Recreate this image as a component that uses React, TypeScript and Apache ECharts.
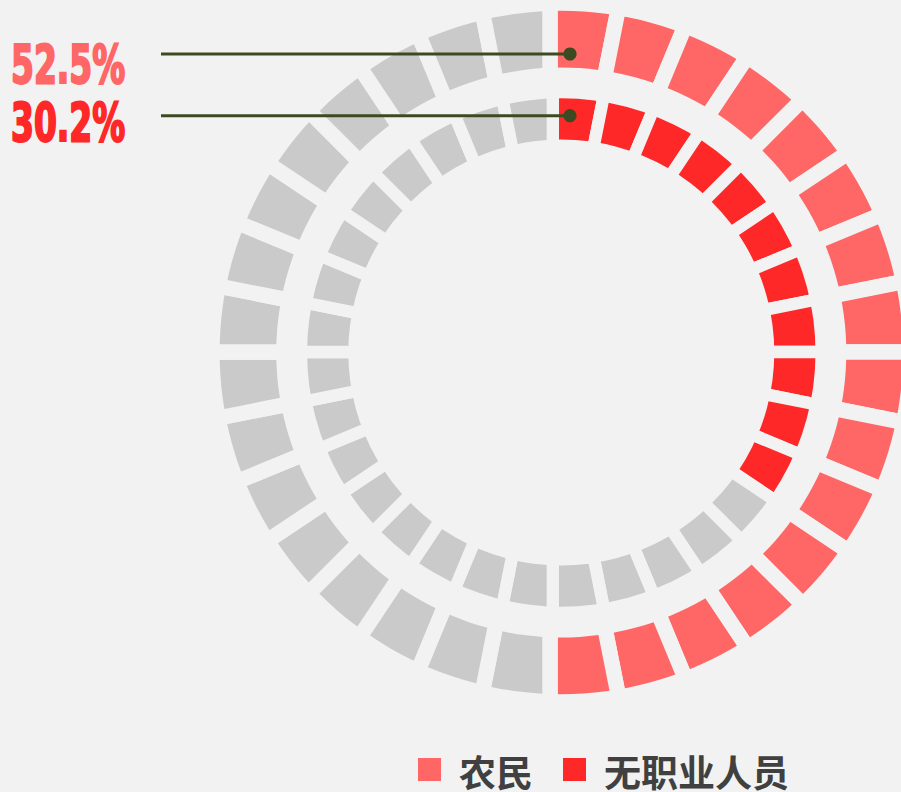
import React, { useEffect, useRef } from 'react';
import * as echarts from 'echarts';

// ---- data ----
const categories = ['农民', '无职业人员'];
const percentValues = [52.5, 30.2];
const segmentCount = 32;
const activeSegments = [16, 11];
const ringColors = ['#FF6666', '#FF2828'];
const idleColor = '#CACACA';
const bgColor = '#F2F2F2';
const lineColor = '#3C4A22';
const legendTextColor = '#404040';

function segmentData(active: number, color: string) {
  return Array.from({ length: segmentCount }, (_, i) => ({
    name: i < active ? 'on' : 'off',
    value: 1,
    itemStyle: { color: i < active ? color : idleColor },
  }));
}

const pieBase: any = {
  type: 'pie',
  silent: true,
  startAngle: 90,
  clockwise: true,
  avoidLabelOverlap: false,
  label: { show: false },
  labelLine: { show: false },
  emphasis: { disabled: true },
  animation: false,
};

function mask(radius: [number, number]) {
  return {
    ...pieBase,
    center: [561.3, 352.5],
    radius,
    z: 5,
    data: [{ value: 1, itemStyle: { color: bgColor } }],
  };
}

export default function App() {
  const ref = useRef<HTMLDivElement>(null);
  useEffect(() => {
    document.body.style.margin = '0';
    const chart = echarts.init(ref.current!, undefined, { renderer: 'svg' });
    const lineYs = [54, 115.7];
    const textYs = [65, 123];
    const graphics: any[] = [];
    percentValues.forEach((v, i) => {
      graphics.push({
        type: 'line',
        z: 100,
        silent: true,
        shape: { x1: 161, y1: lineYs[i], x2: 570, y2: lineYs[i] },
        style: { stroke: lineColor, lineWidth: 3 },
      });
      graphics.push({
        type: 'circle',
        z: 101,
        silent: true,
        shape: { cx: 570, cy: lineYs[i], r: 6.6 },
        style: { fill: lineColor },
      });
      graphics.push({
        type: 'text',
        z: 100,
        silent: true,
        x: 11,
        y: textYs[i],
        scaleX: 0.69,
        style: {
          text: v.toFixed(1) + '%',
          fill: ringColors[i],
          stroke: ringColors[i],
          lineWidth: 2.2,
          fontSize: 53,
          fontWeight: 'bold',
          fontFamily: '"DejaVu Sans Condensed", "DejaVu Sans", sans-serif',
          verticalAlign: 'middle',
          textAlign: 'left',
        },
      });
    });
    const legendX = [418, 563];
    categories.forEach((c, i) => {
      graphics.push({
        type: 'rect',
        z: 100,
        silent: true,
        shape: { x: legendX[i], y: 758, width: 23, height: 23 },
        style: { fill: ringColors[i] },
      });
      graphics.push({
        type: 'text',
        z: 100,
        silent: true,
        x: legendX[i] + 41,
        y: 771,
        style: {
          text: c,
          fill: legendTextColor,
          fontSize: 37,
          lineHeight: 36,
          fontWeight: 'bold',
          fontFamily: '"Noto Sans CJK SC", sans-serif',
          verticalAlign: 'middle',
          textAlign: 'left',
        },
      });
    });

    chart.setOption({
      animation: false,
      backgroundColor: bgColor,
      graphic: { elements: graphics },
      series: [
        {
          ...pieBase,
          name: categories[0],
          center: [550, 352],
          radius: [262, 364],
          z: 2,
          itemStyle: { borderColor: bgColor, borderWidth: 15.4 },
          data: segmentData(activeSegments[0], ringColors[0]),
        },
        {
          ...pieBase,
          name: categories[1],
          center: [552.8, 352],
          radius: [196, 270],
          z: 3,
          itemStyle: { borderColor: bgColor, borderWidth: 12.3 },
          data: segmentData(activeSegments[1], ringColors[1]),
        },
        mask([254.2, 285]),
        mask([341.7, 390]),
        mask([0, 213]),
      ],
    });
    return () => chart.dispose();
  }, []);
  return <div ref={ref} style={{ width: 901, height: 792 }} />;
}
